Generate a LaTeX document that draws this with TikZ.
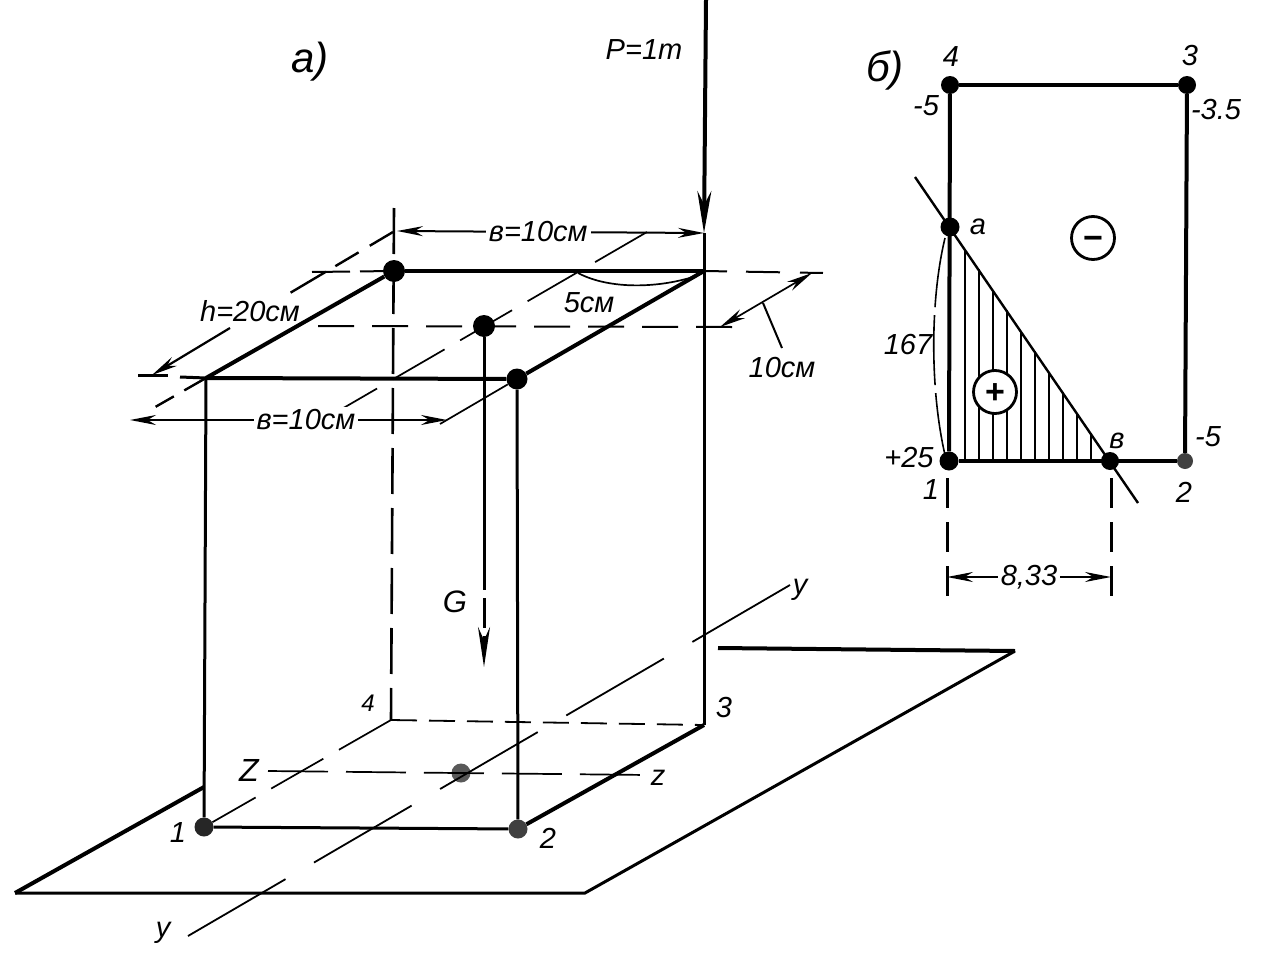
\documentclass[tikz,border=0pt]{standalone}
\usepackage{fontspec}
\setmainfont{Liberation Sans}
\usetikzlibrary{arrows.meta}
\tikzset{
  bold/.style={line width=4pt,black},
  mid/.style={line width=3pt,black},
  fine/.style={line width=1.7pt,black},
  dashL/.style={line width=2.6pt,dash pattern=on 46pt off 14pt},
  dashM/.style={line width=1.8pt,dash pattern=on 26pt off 12pt},
  dashY/.style={line width=1.8pt,dash pattern=on 113pt off 33pt},
  dashC/.style={line width=1.7pt,dash pattern=on 60pt off 18pt},
  dashH/.style={line width=2pt,dash pattern=on 36pt off 18pt},
  endarrow/.style={-{Stealth[length=26pt,width=10pt]}},
  bothar/.style={{Stealth[length=26pt,width=10pt]}-{Stealth[length=26pt,width=10pt]}},
  dot/.style={circle,fill=black,inner sep=0pt,minimum size=#1},
  dot/.default=18pt,
  lab/.style={font=\fontsize{29}{31}\selectfont\itshape,inner sep=1pt},
  labw/.style={lab,fill=white,inner sep=3pt},
  big/.style={lab,font=\fontsize{42}{44}\selectfont\itshape},
  sign/.style={circle,draw=black,line width=2.8pt,fill=white,minimum size=43pt,inner sep=0pt,font=\fontsize{34}{34}\selectfont\bfseries},
  hatchl/.style={line width=1.4pt},
}
\begin{document}
\begin{tikzpicture}[x=1pt,y=-1pt]
\useasboundingbox (0,0) rectangle (1283,953);
% --- ground plate
\coordinate (pa) at (204,787);
\coordinate (pb) at (15,893);
\coordinate (pc) at (585,893);
\coordinate (pd) at (1015,651);
\coordinate (pe) at (718,648);
\draw[bold] (pa) -- (pb);
\draw[mid] (pb) -- (pc) -- (pd);
\draw[bold] (pd) -- (pe);
% --- column corners
\coordinate (t1) at (206,378);
\node[dot=21pt] (t2) at (517,379) {};
\coordinate (t3) at (704,271);
\node[dot=22pt] (t4) at (394,271) {};
\node[dot=22pt] (tc) at (484,326) {};
\node[dot=19pt,fill=black!85] (b1) at (204,827) {};
\node[dot=19pt,fill=black!75] (b2) at (518,829) {};
\coordinate (b3) at (704,725);
\coordinate (b4) at (391,720);
\node[dot=19pt,fill=black!65] (bc) at (461,773) {};
% --- axes below
\coordinate (ya) at (790,585);
\coordinate (yb) at (188,936);
\coordinate (za) at (268,771);
\coordinate (zb) at (648,775);
\draw[dashY] (ya) -- (yb);
\draw[dashC] (za) -- (zb);
% --- hidden edges
\coordinate (v4top) at (394,208);
\draw[dashL] (v4top) -- (b4);
\draw[dashM] (b4) -- (b3);
\draw[dashC] (b4) -- (b1);
% --- visible edges
\draw[mid] (t1) -- (b1);
\draw[mid] (t2) -- (b2);
\draw[bold] (t4) -- (t3);
\draw[bold] (t4) -- (t1);
\draw[bold] (t3) -- (t2);
\draw[bold] (t1) -- (t2);
\draw[mid] (b1) -- (b2);
\draw[bold] (b2) -- (b3);
% --- load P
\coordinate (pt) at (706,0);
\coordinate (ph) at (704,233);
\draw[bold,-{Stealth[length=42pt,width=14pt]}] (pt) -- (ph);
\draw[mid] (ph) -- (b3);
% --- load G
\coordinate (gh) at (484,667);
\coordinate (gm) at (484,560);
\draw[mid] (tc) -- (gm);
\draw[mid,dash pattern=on 30pt off 8pt,-{Stealth[length=40pt,width=12pt]}] (gm) -- (gh);
% --- top face extension lines
\coordinate (h4l) at (312,272);
\coordinate (h3r) at (823,273);
\coordinate (hcl) at (318,326);
\coordinate (hcr) at (732,327);
\coordinate (h1l) at (138,375);
\coordinate (h1m) at (168,375);
\coordinate (h1n) at (180,377);
\draw[line width=2pt,dash pattern=on 38pt off 10pt] (h4l) -- (t4);
\draw[line width=2pt,dash pattern=on 23pt off 19pt on 34pt off 20pt on 23pt off 99pt] (t3) -- (h3r);
\draw[dashH] (hcl) -- (hcr);
\draw[mid] (h1n) -- (t1);
\draw[mid] (h1l) -- (h1m);
\coordinate (d4a) at (393,232);
\coordinate (d4b) at (290,293);
\coordinate (ca) at (647,232);
\coordinate (cb) at (340,410);
\coordinate (e1) at (150,410);
\coordinate (e2) at (440,424);
\draw[line width=2.4pt,dash pattern=on 27pt off 13pt on 27pt off 11pt on 41pt off 99pt] (d4a) -- (d4b);
\draw[dashC] (ca) -- (cb);
\draw[line width=2.4pt,dash pattern=on 25pt off 12pt on 21pt off 99pt] (t1) -- (e1);
\draw[fine] (t2) -- (e2);
% --- dimension b top
\coordinate (dta) at (397,231);
\draw[mid,bothar,line width=2pt] (dta) -- node[labw,pos=.46]{в=10см} (ph);
% --- dimension b front
\coordinate (dfa) at (130,420);
\coordinate (dfb) at (447,420);
\draw[mid,bothar,line width=2pt] (dfa) -- node[labw,pos=.555]{в=10см} (dfb);
% --- dimension h
\coordinate (dha) at (230,328);
\coordinate (dhb) at (152,375);
\draw[mid,line width=2.2pt,endarrow] (dha) -- (dhb);
\node[lab] (hl) at (250,311) {h=20см};
% --- dimension 10 cm
\coordinate (dqa) at (812,273);
\coordinate (dqb) at (720,327);
\draw[fine,bothar] (dqa) -- (dqb);
\coordinate (lqa) at (763,303);
\coordinate (lqb) at (782,348);
\draw[fine,line width=2pt] (lqa) -- (lqb);
\node[lab] (q10) at (782,368) {10см};
% --- dimension 5 cm
\coordinate (fa) at (578,273);
\coordinate (fb) at (696,276);
\draw[fine] (fa) .. controls (610,290) and (660,288) .. (fb);
\node[lab] (f5) at (589,303) {5см};
% --- labels of panel a
\node[big] (la) at (310,62) {а)};
\node[lab] (lp) at (644,50) {Р=1т};
\node[lab,font=\fontsize{31}{32}\selectfont\itshape] (lg) at (455,602) {G};
\node[lab] (y1) at (800,590) {у};
\node[lab] (y2) at (163,933) {у};
\node[lab,font=\fontsize{32}{32}\selectfont\itshape] (z1) at (249,770) {Z};
\node[lab] (z2) at (658,778) {z};
\node[lab] (n1) at (178,833) {1};
\node[lab] (n2) at (548,838) {2};
\node[lab] (n3) at (724,708) {3};
\node[lab,font=\fontsize{24}{26}\selectfont\itshape] (n4) at (368,703) {4};
% --- panel b
\node[dot=18pt] (s4) at (950,85) {};
\node[dot=18pt] (s3) at (1187,85) {};
\node[dot=19pt] (s1) at (949,461) {};
\node[dot=16pt,fill=black!75] (s2) at (1185,461) {};
\node[dot=19pt] (sa) at (950,227) {};
\node[dot=18pt] (sb) at (1110,461) {};
\foreach \x in {965,979,993,1007,1021,1035,1049,1063,1077,1091}{
  \pgfmathsetmacro{\yy}{227+(\x-950)*1.4625}
  \draw[hatchl] (\x,\yy) -- (\x,461);
}
\draw[bold] (s4) -- (s3);
\draw[bold] (s3) -- (s2);
\draw[bold] (s4) -- (s1);
\draw[bold] (s1) -- (s2);
\coordinate (na) at (915,177);
\coordinate (nb) at (1138,503);
\draw[line width=2.4pt] (na) -- (nb);
\node[sign] (minus) at (1093,238) {\raisebox{-11pt}[0pt][0pt]{−}};
\node[sign] (plus) at (995,392) {\raisebox{-11pt}[0pt][0pt]{+}};
% dashed bow
\coordinate (ba) at (945,238);
\coordinate (bb) at (945,455);
\draw[line width=1.6pt,dash pattern=on 70pt off 8pt] (ba) .. controls (930,300) and (930,390) .. (bb);
% dimension 8,33
\coordinate (xa) at (947,478);
\coordinate (xb) at (947,596);
\coordinate (xc) at (1111,478);
\coordinate (xd) at (1111,596);
\draw[mid,dash pattern=on 30pt off 14pt] (xa) -- (xb);
\draw[mid,dash pattern=on 30pt off 14pt] (xc) -- (xd);
\coordinate (xl) at (947,577);
\coordinate (xr) at (1111,577);
\draw[fine,line width=2pt,bothar] (xl) -- node[labw,pos=.5]{8,33} (xr);
% labels of panel b
\node[big] (lb) at (885,70) {б)};
\node[lab] (m4) at (951,57) {4};
\node[lab] (m3) at (1190,56) {3};
\node[lab] (m1) at (931,490) {1};
\node[lab] (m2) at (1184,492) {2};
\node[lab] (v4) at (926,106) {-5};
\node[lab] (v3) at (1216,110) {-3.5};
\node[lab] (v2) at (1208,437) {-5};
\node[lab] (v1) at (909,458) {+25};
\node[lab] (v167) at (908,345) {167};
\node[lab] (ma) at (978,227) {а};
\node[lab] (mb) at (1117,441) {в};
\end{tikzpicture}
\end{document}
